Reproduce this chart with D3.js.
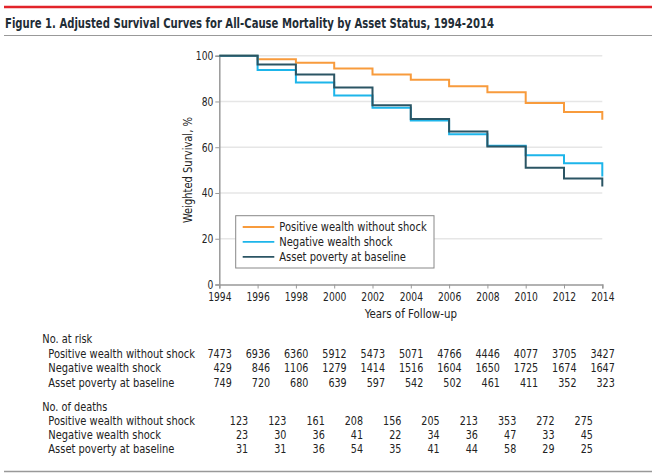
<!DOCTYPE html>
<html><head><meta charset="utf-8">
<script src="https://cdn.jsdelivr.net/npm/d3@7"></script>
<style>
body{margin:0;background:#fff;}
svg text{font-family:"DejaVu Sans Condensed","DejaVu Sans",sans-serif;fill:#222;}
</style></head>
<body><svg id="c" width="659" height="476"></svg>
<script>
const title = "Figure 1. Adjusted Survival Curves for All-Cause Mortality by Asset Status, 1994-2014";
const years = [1994,1996,1998,2000,2002,2004,2006,2008,2010,2012,2014];
const seriesNames = ["Positive wealth without shock","Negative wealth shock","Asset poverty at baseline"];
const positiveSurv = [100,98.4,96.9,94.4,91.8,89.5,86.7,84.0,79.3,75.4,72.0];
const negativeSurv = [100,93.7,88.3,82.6,77.2,71.7,65.7,60.6,56.5,53.0,47.2];
const povertySurv  = [100,96.2,91.8,86.1,78.3,72.3,66.9,60.3,51.0,46.3,42.8];
const yTicks = [0,20,40,60,80,100];
const atRiskPositive = [7473,6936,6360,5912,5473,5071,4766,4446,4077,3705,3427];
const atRiskNegative = [429,846,1106,1279,1414,1516,1604,1650,1725,1674,1647];
const atRiskPoverty  = [749,720,680,639,597,542,502,461,411,352,323];
const deathsPositive = [123,123,161,208,156,205,213,353,272,275];
const deathsNegative = [23,30,36,41,22,34,36,47,33,45];
const deathsPoverty  = [31,31,36,54,35,41,44,58,29,25];
const colors = ["#F89B3C","#1DB5EA","#2B5564"];

const svg = d3.select("#c");
const x = d3.scaleLinear().domain([1994,2014]).range([219.3,602.3]);
const y = d3.scaleLinear().domain([0,100]).range([284.5,55.7]);

function natural(sel){ return sel.node().getComputedTextLength(); }
function squeeze(sel,k){
  sel.each(function(){
    const w = this.getComputedTextLength();
    d3.select(this).attr("textLength",w*k).attr("lengthAdjust","spacingAndGlyphs");
  });
}

// header
svg.append("line").attr("x1",4).attr("x2",652).attr("y1",7).attr("y2",7).attr("stroke","#E2232A").attr("stroke-width",2.5);
const tt = svg.append("text").attr("x",5).attr("y",27.5).attr("font-size",13.8).attr("font-weight","bold").style("fill","#1f2d36").text(title);
squeeze(tt, 489/natural(tt));
svg.append("line").attr("x1",4).attr("x2",652).attr("y1",35.5).attr("y2",35.5).attr("stroke","#999").attr("stroke-width",1.2);
svg.append("line").attr("x1",4).attr("x2",652).attr("y1",471.5).attr("y2",471.5).attr("stroke","#999").attr("stroke-width",1.5);

// grid
svg.append("g").selectAll("line").data(yTicks.filter(d=>d>0)).join("line")
  .attr("x1",x(1994)).attr("x2",x(2014)).attr("y1",d=>y(d)).attr("y2",d=>y(d))
  .attr("stroke","#e6e6e6").attr("stroke-width",1.5);

// axes
const yAxis = svg.append("g").attr("transform",`translate(${x(1994)},0)`)
  .call(d3.axisLeft(y).tickValues(yTicks).tickSize(4).tickPadding(2));
const xAxis = svg.append("g").attr("transform",`translate(0,${y(0)})`)
  .call(d3.axisBottom(x).tickValues(years).tickFormat(d3.format("d")).tickSize(4).tickPadding(4.5));
[yAxis,xAxis].forEach(g=>{
  g.select(".domain").attr("stroke","#999").attr("stroke-width",1.5);
  g.selectAll(".tick line").attr("stroke","#999");
  g.selectAll("text").attr("font-size",11.8).style("fill","#222").attr("font-family",null);
});
const xLabs = xAxis.selectAll(".tick text");
const kTick = 23.3/xLabs.node().getComputedTextLength();
squeeze(xLabs,kTick); squeeze(yAxis.selectAll(".tick text"),kTick);

const xt = svg.append("text").attr("x",(x(1994)+x(2014))/2).attr("y",317.5).attr("text-anchor","middle").attr("font-size",12).text("Years of Follow-up");
squeeze(xt, 92.3/natural(xt));
const yt = svg.append("text").attr("transform",`translate(192,${(y(0)+y(100))/2}) rotate(-90)`).attr("text-anchor","middle").attr("font-size",12).text("Weighted Survival, %");
squeeze(yt, 106/natural(yt));

// curves
const line = d3.line().x(d=>x(d[0])).y(d=>y(d[1])).curve(d3.curveStepAfter);
[positiveSurv,negativeSurv,povertySurv].forEach((s,i)=>{
  svg.append("path").datum(years.map((yr,j)=>[yr,s[j]]))
    .attr("d",line).attr("fill","none").attr("stroke",colors[i]).attr("stroke-width",2);
});

// legend
svg.append("rect").attr("x",235.7).attr("y",215.7).attr("width",198.3).attr("height",52.3)
  .attr("fill","#fff").attr("stroke","#888").attr("stroke-width",1);
const lg = svg.append("g").selectAll("g").data(seriesNames).join("g")
  .attr("transform",(d,i)=>`translate(0,${227+i*14.9})`);
lg.append("line").attr("x1",242.7).attr("x2",274.3).attr("stroke",(d,i)=>colors[i]).attr("stroke-width",1.8);
const lgt = lg.append("text").attr("x",279.3).attr("dy","0.35em").attr("font-size",12).text(d=>d);
squeeze(lgt, 147.4/lgt.node().getComputedTextLength());

// table
const tfs = 11.6;
const tbl = svg.append("g");
const h1 = tbl.append("text").attr("x",42.3).attr("y",339.3).attr("dy","0.35em").attr("font-size",tfs).text("No. at risk");
const labs = [], nums = [];
const riskRows = [atRiskPositive,atRiskNegative,atRiskPoverty];
riskRows.forEach((row,i)=>{
  const yy = 354+i*14.3;
  labs.push(tbl.append("text").attr("x",48.3).attr("y",yy).attr("dy","0.35em").attr("font-size",tfs).text(seriesNames[i]));
  nums.push(tbl.append("g").selectAll("text").data(row).join("text")
    .attr("x",(d,j)=>x(years[j])+12.5).attr("y",yy).attr("dy","0.35em").attr("text-anchor","end").attr("font-size",tfs).text(d=>d));
});
const h2 = tbl.append("text").attr("x",42.3).attr("y",406.7).attr("dy","0.35em").attr("font-size",tfs).text("No. of deaths");
const deathRows = [deathsPositive,deathsNegative,deathsPoverty];
deathRows.forEach((row,i)=>{
  const yy = 420.7+i*14.3;
  labs.push(tbl.append("text").attr("x",48.3).attr("y",yy).attr("dy","0.35em").attr("font-size",tfs).text(seriesNames[i]));
  nums.push(tbl.append("g").selectAll("text").data(row).join("text")
    .attr("x",(d,j)=>(x(years[j])+x(years[j+1]))/2+9.7).attr("y",yy).attr("dy","0.35em").attr("text-anchor","end").attr("font-size",tfs).text(d=>d));
});
const kLab = 146.7/natural(labs[0]);
labs.forEach(s=>squeeze(s,kLab));
squeeze(h1,50/natural(h1)); squeeze(h2,65/natural(h2));
const kNum = 24.4/nums[0].node().getComputedTextLength();
nums.forEach(s=>squeeze(s,kNum));
</script></body></html>
